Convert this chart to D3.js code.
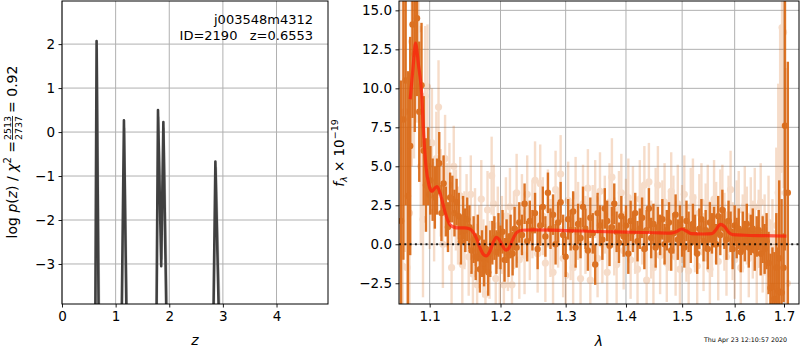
<!DOCTYPE html>
<html><head><meta charset="utf-8">
<script src="https://cdn.jsdelivr.net/npm/d3@7"></script>
<style>
body{margin:0;background:#fff;}
svg{display:block;font-family:"DejaVu Sans",sans-serif;}
</style></head><body>
<svg id="c" width="800" height="350"></svg>
<script>
// ---------- Left panel: log p(z) ----------
const pzZ    = [0.50,0.62,0.645,0.685,1.11,1.155,1.205,1.76,1.79,1.85,1.89,1.95,2.82,2.86,2.93,3.10];
const pzLogp = [-9,-4.5,2.07,-4.5,-4.5,0.27,-4.5,-4.5,0.50,-3.05,0.23,-4.5,-4.5,-0.67,-4.5,-9];
const pz2Z    = [0.50,0.63,0.655,0.70,1.12,1.165,1.22,1.77,1.80,1.865,1.90,1.97,2.83,2.875,2.95,3.10];
const pz2Logp = [-9,-4.5,1.9,-4.5,-4.5,0.1,-4.5,-4.5,0.35,-2.9,0.1,-4.5,-4.5,-0.8,-4.5,-9];
const zTicks = [0,1,2,3,4];
const logpTicks = [-3,-2,-1,0,1,2];

// ---------- Right panel: spectrum ----------
const specTicksX = [1.1,1.2,1.3,1.4,1.5,1.6,1.7];
const specTicksY = [-2.5,0,2.5,5,7.5,10,12.5,15];

// unbinned (light) spectrum
const lightWave = [1.061,1.064,1.067,1.070,1.073,1.076,1.079,1.082,1.085,1.088,1.091,1.094,1.097,1.100,1.103,1.106,1.109,1.112,1.115,1.118,1.121,1.124,1.127,1.130,1.133,1.136,1.139,1.142,1.145,1.148,1.151,1.154,1.157,1.160,1.163,1.166,1.169,1.172,1.175,1.178,1.181,1.184,1.187,1.190,1.193,1.196,1.199,1.202,1.205,1.208,1.211,1.214,1.217,1.220,1.224,1.228,1.232,1.236,1.240,1.244,1.248,1.252,1.256,1.260,1.264,1.268,1.272,1.276,1.280,1.284,1.288,1.292,1.296,1.300,1.304,1.308,1.312,1.316,1.320,1.324,1.328,1.332,1.336,1.340,1.344,1.348,1.352,1.356,1.360,1.364,1.368,1.372,1.376,1.380,1.384,1.388,1.392,1.396,1.400,1.404,1.408,1.412,1.416,1.420,1.424,1.428,1.432,1.436,1.440,1.444,1.448,1.452,1.456,1.460,1.464,1.468,1.472,1.476,1.480,1.484,1.488,1.492,1.496,1.500,1.504,1.508,1.512,1.516,1.520,1.524,1.528,1.532,1.536,1.540,1.544,1.548,1.552,1.556,1.560,1.564,1.568,1.572,1.576,1.580,1.584,1.588,1.592,1.596,1.600,1.604,1.608,1.612,1.616,1.620,1.624,1.628,1.632,1.636,1.640,1.644,1.648,1.652,1.656,1.660,1.664,1.668,1.672,1.676,1.680,1.684,1.688,1.692,1.696,1.699,1.703,1.707];
const lightFlux = [6.0,-1.4,8.5,-1.5,2.0,13.0,12.5,14.8,13.8,5.0,1.6,9.5,10.1,3.2,6.5,2.1,5.5,8.8,3.3,0.0,5.5,2.5,3.8,-1.5,5.0,2.2,1.2,3.1,-1.3,0.9,2.0,-0.8,3.2,-1.9,1.1,-2.6,0.0,2.9,-0.9,-3.2,2.2,-1.0,4.4,2.6,-2.2,1.2,-1.4,0.6,-2.6,1.8,-0.5,2.4,-2.6,0.9,3.3,-1.0,2.0,-0.7,3.2,0.2,1.6,4.1,-0.6,3.9,1.8,-1.2,2.3,0.4,-1.8,3.5,1.0,4.5,-0.9,-2.0,2.8,0.2,-1.5,3.1,1.5,-2.2,2.6,0.6,3.6,-2.3,1.3,2.9,-0.9,3.4,0.0,1.9,-1.8,2.7,4.3,0.5,-1.3,2.2,3.3,-0.4,1.7,3.0,-1.0,2.5,0.6,-1.6,2.9,1.2,3.8,-2.3,4.0,0.3,-1.5,2.4,3.8,-0.7,1.6,2.7,-1.2,0.8,3.4,1.9,-0.8,2.6,-1.6,1.3,3.2,0.1,-1.7,2.4,3.0,0.7,-1.4,2.0,2.7,-0.5,1.4,2.6,-1.6,0.4,2.9,1.5,-1.1,2.3,2.6,0.8,-0.8,1.9,3.5,0.2,-1.0,1.6,2.2,-1.5,0.7,2.5,1.2,-0.9,1.8,0.3,2.4,-1.3,1.0,2.7,-0.6,0.6,-1.6,1.4,-1.9,-0.6,-3.1,1.2,3.3,4.8,13.9,13.6,3.3,-2.5];
const lightErr = [10,10,9,9,9,8,7,7,6,5,5,4.5,4,3.5,3.5,3.2,3,3,2.8,2.8,2.8,2.7,2.7,2.6,2.6,2.6,2.5,2.5,2.5,2.5,2.5,2.5,2.5,2.5,2.5,2.5,2.5,2.5,2.5,2.5,2.5,2.5,2.5,2.5,2.5,2.5,2.5,2.5,2.5,2.5,2.5,2.5,2.5,2.5,2.5,2.5,2.5,2.5,2.5,2.5,2.5,2.5,2.5,2.5,2.5,2.5,2.5,2.5,2.5,2.5,2.5,2.5,2.5,2.5,2.5,2.5,2.5,2.5,2.5,2.5,2.5,2.5,2.5,2.5,2.5,2.5,2.5,2.5,2.5,2.5,2.5,2.5,2.5,2.5,2.5,2.5,2.5,2.5,2.5,2.5,2.5,2.5,2.5,2.5,2.5,2.5,2.5,2.5,2.5,2.5,2.5,2.5,2.5,2.5,2.5,2.5,2.5,2.5,2.5,2.5,2.5,2.5,2.5,2.5,2.5,2.5,2.5,2.5,2.5,2.5,2.5,2.5,2.5,2.5,2.5,2.5,2.5,2.5,2.5,2.5,2.5,2.5,2.5,2.5,2.5,2.5,2.5,2.5,2.5,2.5,2.5,2.5,2.5,2.5,2.5,2.5,2.5,2.5,2.5,2.5,2.5,2.5,2.5,2.6,2.7,3,3.2,3.5,4,5,7,9,9,10,8];

// binned (dark) spectrum
const darkWave = [1.062,1.065,1.068,1.071,1.074,1.077,1.080,1.083,1.086,1.089,1.092,1.095,1.098,1.101,1.104,1.107,1.110,1.113,1.116,1.119,1.122,1.125,1.128,1.131,1.134,1.137,1.140,1.143,1.146,1.149,1.152,1.155,1.158,1.161,1.164,1.167,1.170,1.173,1.176,1.179,1.182,1.185,1.188,1.191,1.194,1.197,1.200,1.203,1.206,1.209,1.212,1.215,1.218,1.221,1.224,1.228,1.232,1.236,1.240,1.244,1.248,1.252,1.256,1.260,1.264,1.268,1.272,1.276,1.280,1.284,1.288,1.292,1.296,1.300,1.304,1.308,1.312,1.316,1.320,1.324,1.328,1.332,1.336,1.340,1.344,1.348,1.352,1.356,1.360,1.364,1.368,1.372,1.376,1.380,1.384,1.388,1.392,1.396,1.400,1.404,1.408,1.412,1.416,1.420,1.424,1.428,1.432,1.436,1.440,1.444,1.448,1.452,1.456,1.460,1.464,1.468,1.472,1.476,1.480,1.484,1.488,1.492,1.496,1.500,1.504,1.508,1.512,1.516,1.520,1.524,1.528,1.532,1.536,1.540,1.544,1.548,1.552,1.556,1.560,1.564,1.568,1.572,1.576,1.580,1.584,1.588,1.592,1.596,1.600,1.604,1.608,1.612,1.616,1.620,1.624,1.628,1.632,1.636,1.640,1.644,1.648,1.652,1.656,1.660,1.664,1.668,1.672,1.676,1.680,1.684,1.688,1.690,1.695,1.699,1.702,1.708,1.716];
const darkFlux = [1.5,8.0,10.5,3.1,6.3,14.1,12.2,14.5,8.5,10.2,6.0,3.8,5.0,4.1,3.5,3.0,3.7,5.2,2.0,3.9,2.1,1.1,3.0,2.9,2.0,2.7,1.8,0.2,1.7,0.9,1.6,1.1,-0.4,0.3,-0.8,0.4,-1.6,-0.6,-1.2,-0.3,-1.8,-0.6,0.1,0.4,-0.5,0.6,-0.2,0.8,-1.0,0.2,-0.7,0.5,-0.6,1.0,-0.2,1.4,0.6,2.6,0.2,1.5,0.9,2.0,-0.3,1.2,2.4,0.5,3.3,1.0,1.9,0.0,1.4,2.7,0.6,-0.8,1.6,0.9,2.1,-0.2,1.3,0.4,2.4,1.0,-0.4,1.7,0.7,-1.3,2.0,1.2,0.3,2.3,1.5,-0.1,1.1,2.6,0.8,0.1,1.8,0.5,1.2,-0.6,1.5,0.8,2.0,0.2,1.0,1.7,-0.3,0.9,2.3,0.4,1.3,-0.2,1.1,0.6,1.6,0.0,0.9,1.4,-0.4,0.7,1.9,0.3,1.2,0.5,-0.2,1.5,0.8,0.1,1.3,0.6,-0.6,1.0,1.6,0.2,0.9,-0.3,1.4,0.7,1.1,0.0,1.8,0.6,2.2,1.0,0.3,1.5,0.8,-0.3,1.2,0.4,1.0,-0.5,0.8,0.2,1.3,-0.2,0.6,1.0,-0.4,0.5,0.9,-0.6,0.3,-0.3,0.2,-1.2,-2.8,-2.7,-3.5,-1.5,-3.0,-0.9,-3.1,-1.5,7.6,3.3,-4.5];
const darkErr = [9,9,8,8,7,6,5,5,4.5,4,3.5,3,2.5,2.2,2.0,2.0,1.8,2.0,1.8,1.8,1.6,1.6,1.6,1.5,1.5,1.5,1.5,1.5,1.4,1.4,1.4,1.4,1.5,1.5,1.5,1.5,1.5,1.5,1.5,1.5,1.5,1.5,1.4,1.4,1.4,1.4,1.4,1.4,1.4,1.4,1.4,1.4,1.4,1.4,1.3,1.3,1.3,1.3,1.3,1.3,1.3,1.3,1.3,1.3,1.3,1.3,1.3,1.3,1.3,1.3,1.3,1.3,1.3,1.3,1.3,1.3,1.3,1.3,1.3,1.3,1.3,1.3,1.3,1.3,1.3,1.3,1.3,1.3,1.3,1.3,1.3,1.3,1.3,1.3,1.3,1.3,1.3,1.3,1.3,1.3,1.3,1.3,1.3,1.3,1.3,1.3,1.3,1.3,1.3,1.3,1.3,1.3,1.3,1.3,1.3,1.3,1.3,1.3,1.3,1.3,1.3,1.3,1.3,1.3,1.3,1.3,1.3,1.3,1.3,1.3,1.3,1.3,1.3,1.3,1.3,1.3,1.3,1.3,1.3,1.3,1.3,1.3,1.3,1.3,1.3,1.3,1.3,1.3,1.3,1.3,1.3,1.3,1.3,1.3,1.3,1.3,1.3,1.3,1.3,1.3,1.3,1.4,1.5,1.6,1.8,2.0,2.2,2.5,3,3.5,2.8,5,6,2.2,8,8.4];

// model
const modelWave = [1.074,1.078,1.081,1.085,1.089,1.092,1.095,1.099,1.103,1.107,1.110,1.114,1.118,1.122,1.127,1.133,1.140,1.148,1.155,1.160,1.165,1.170,1.175,1.179,1.184,1.189,1.194,1.198,1.203,1.208,1.213,1.218,1.224,1.232,1.250,1.300,1.350,1.400,1.450,1.480,1.490,1.499,1.508,1.517,1.540,1.556,1.564,1.572,1.580,1.588,1.596,1.620,1.660,1.705];
const modelFlux = [9.3,11.5,12.9,11.5,9.8,7.0,5.0,3.8,3.4,3.6,3.7,3.3,2.6,1.9,1.3,1.1,1.05,1.05,1.0,0.8,0.4,-0.2,-0.65,-0.75,-0.5,0.1,0.45,0.3,-0.1,-0.38,-0.2,0.3,0.75,0.9,0.92,0.88,0.82,0.78,0.74,0.72,0.82,0.98,0.85,0.68,0.66,0.68,0.95,1.28,1.15,0.78,0.62,0.58,0.55,0.52];

const svg = d3.select("#c");
const TICKFONT = 13.5;

function drawGridAxes(g, x, y, xt, yt, xfmt, yfmt, box){
  // grid
  g.append("g").selectAll("line").data(xt).join("line")
    .attr("x1", d=>x(d)).attr("x2", d=>x(d)).attr("y1", box.t).attr("y2", box.b)
    .attr("stroke", "#b0b0b0").attr("stroke-width", 1);
  g.append("g").selectAll("line").data(yt).join("line")
    .attr("y1", d=>y(d)).attr("y2", d=>y(d)).attr("x1", box.l).attr("x2", box.r)
    .attr("stroke", "#b0b0b0").attr("stroke-width", 1);
}
function drawFrameAxes(x, y, xt, yt, xfmt, yfmt, box){
  const ax = svg.append("g").attr("transform", `translate(0,${box.b})`)
    .call(d3.axisBottom(x).tickValues(xt).tickFormat(xfmt).tickSize(3.5).tickPadding(3.5));
  const ay = svg.append("g").attr("transform", `translate(${box.l},0)`)
    .call(d3.axisLeft(y).tickValues(yt).tickFormat(yfmt).tickSize(3.5).tickPadding(3.5));
  [ax, ay].forEach(a=>{
    a.select(".domain").remove();
    a.selectAll("text").attr("font-size", TICKFONT).attr("font-family", "DejaVu Sans").attr("fill", "#000");
    a.selectAll(".tick line").attr("stroke", "#000").attr("stroke-width", 0.9);
  });
  svg.append("rect").attr("x", box.l).attr("y", box.t).attr("width", box.r-box.l).attr("height", box.b-box.t)
    .attr("fill", "none").attr("stroke", "#000").attr("stroke-width", 1);
}
const minusFmt = s => s.replace("-", "\u2212");

// ===== Left panel =====
const L = {l:62, r:328, t:1, b:304};
const xz = d3.scaleLinear().domain([0, 4.96]).range([L.l, L.r]);
const yp = d3.scaleLinear().domain([-3.91, 2.98]).range([L.b, L.t]);
svg.append("clipPath").attr("id","clipL").append("rect").attr("x",L.l).attr("y",L.t).attr("width",L.r-L.l).attr("height",L.b-L.t);
const gL = svg.append("g");
drawGridAxes(gL, xz, yp, zTicks, logpTicks, null, null, L);
const gLc = svg.append("g").attr("clip-path","url(#clipL)");
const lineL = d3.line().x(d=>xz(d[0])).y(d=>yp(d[1]));
gLc.append("path").attr("d", lineL(d3.zip(pz2Z, pz2Logp))).attr("fill","none")
  .attr("stroke","#999").attr("stroke-opacity",0.5).attr("stroke-width",2);
gLc.append("path").attr("d", lineL(d3.zip(pzZ, pzLogp))).attr("fill","none")
  .attr("stroke","#404040").attr("stroke-width",2.6).attr("stroke-linejoin","round");
drawFrameAxes(xz, yp, zTicks, logpTicks, d=>d3.format("d")(d), d=>minusFmt(d3.format("d")(d)), L);

svg.append("text").attr("x",313).attr("y",24).attr("text-anchor","end").attr("font-size",13).text("j003548m4312");
svg.append("text").attr("x",313).attr("y",40).attr("text-anchor","end").attr("font-size",13)
  .attr("xml:space","preserve").text("ID=2190   z=0.6553");

// x label z
svg.append("text").attr("x",195).attr("y",345).attr("text-anchor","middle").attr("font-size",14)
  .attr("font-style","italic").text("z");

// y label (rotated)
const yl = svg.append("g").attr("transform","translate(17,152) rotate(-90)");
const ylt = yl.append("text").attr("font-size",14).attr("text-anchor","start");
ylt.append("tspan").text("log ");
ylt.append("tspan").attr("font-style","italic").text("p");
ylt.append("tspan").text("(");
ylt.append("tspan").attr("font-style","italic").text("z");
ylt.append("tspan").text(") / ");
ylt.append("tspan").attr("font-style","italic").text("χ");
ylt.append("tspan").attr("font-size",10).attr("dy",-6).text("2");
ylt.append("tspan").attr("dy",6).text(" = ");
// measure then position fraction
const w1 = ylt.node().getComputedTextLength();
const fracW = 26;
yl.append("text").attr("x", w1 + fracW/2).attr("y",-6).attr("text-anchor","middle").attr("font-size",9.5).text("2513");
yl.append("line").attr("x1", w1+1).attr("x2", w1+fracW-1).attr("y1",-4.5).attr("y2",-4.5).attr("stroke","#000").attr("stroke-width",0.8);
yl.append("text").attr("x", w1 + fracW/2).attr("y",4.5).attr("text-anchor","middle").attr("font-size",9.5).text("2737");
yl.append("text").attr("x", w1 + fracW + 2).attr("y",0).attr("font-size",14).text("= 0.92");
// center the whole label
const bb = yl.node().getBBox();
yl.attr("transform", `translate(17,${152 + bb.width/2}) rotate(-90)`);

// ===== Right panel =====
const R = {l:399, r:799, t:1, b:304};
const xl = d3.scaleLog().domain([1.0593, 1.7316]).range([R.l, R.r]);
const yf = d3.scaleLinear().domain([-3.83, 15.6]).range([R.b, R.t]);
svg.append("clipPath").attr("id","clipR").append("rect").attr("x",R.l).attr("y",R.t).attr("width",R.r-R.l).attr("height",R.b-R.t);
const gR = svg.append("g");
drawGridAxes(gR, xl, yf, specTicksX, specTicksY, null, null, R);
const gRc = svg.append("g").attr("clip-path","url(#clipR)");
const ORANGE = "#d9650f";

const light = d3.range(lightWave.length).map(i=>({w:lightWave[i], f:lightFlux[i], e:lightErr[i]}));
const dark = d3.range(darkWave.length).map(i=>({w:darkWave[i], f:darkFlux[i], e:darkErr[i]}));

const gLight = gRc.append("g").attr("opacity",0.22);
gLight.selectAll("line").data(light).join("line")
  .attr("x1",d=>xl(d.w)).attr("x2",d=>xl(d.w)).attr("y1",d=>yf(d.f-d.e)).attr("y2",d=>yf(d.f+d.e))
  .attr("stroke",ORANGE).attr("stroke-width",2.4);
gLight.selectAll("circle").data(light).join("circle")
  .attr("cx",d=>xl(d.w)).attr("cy",d=>yf(d.f)).attr("r",3.6).attr("fill",ORANGE);

const gDark = gRc.append("g").attr("opacity",0.9);
gDark.selectAll("line").data(dark).join("line")
  .attr("x1",d=>xl(d.w)).attr("x2",d=>xl(d.w)).attr("y1",d=>yf(d.f-d.e)).attr("y2",d=>yf(d.f+d.e))
  .attr("stroke",ORANGE).attr("stroke-width",2.4);
gDark.selectAll("circle").data(dark).join("circle")
  .attr("cx",d=>xl(d.w)).attr("cy",d=>yf(d.f)).attr("r",3.2).attr("fill",ORANGE);

const lineM = d3.line().x(d=>xl(d[0])).y(d=>yf(d[1])).curve(d3.curveMonotoneX);
gRc.append("path").attr("d", lineM(d3.zip(modelWave, modelFlux))).attr("fill","none")
  .attr("stroke","#ff1a0a").attr("stroke-opacity",0.7).attr("stroke-width",3.2).attr("stroke-linejoin","round");

gRc.append("line").attr("x1",R.l).attr("x2",R.r).attr("y1",yf(0)).attr("y2",yf(0))
  .attr("stroke","#000").attr("stroke-opacity",0.85).attr("stroke-width",1.8).attr("stroke-dasharray","2,3.3");

drawFrameAxes(xl, yf, specTicksX, specTicksY, d=>d3.format(".1f")(d), d=>minusFmt(d3.format(".1f")(d)), R);

svg.append("text").attr("x",599).attr("y",346).attr("text-anchor","middle").attr("font-size",14)
  .attr("font-style","italic").text("λ");

const yr = svg.append("text").attr("transform","translate(344,153) rotate(-90)").attr("text-anchor","middle").attr("font-size",13.5);
yr.append("tspan").attr("font-style","italic").text("f");
yr.append("tspan").attr("font-size",9.5).attr("font-style","italic").attr("dy",3).text("λ");
yr.append("tspan").attr("dy",-3).text(" × 10");
yr.append("tspan").attr("font-size",9.5).attr("dy",-6).text("\u221219");

svg.append("text").attr("x",787).attr("y",342).attr("text-anchor","end").attr("font-size",6.3)
  .text("Thu Apr 23 12:10:57 2020");
</script>
</body></html>
